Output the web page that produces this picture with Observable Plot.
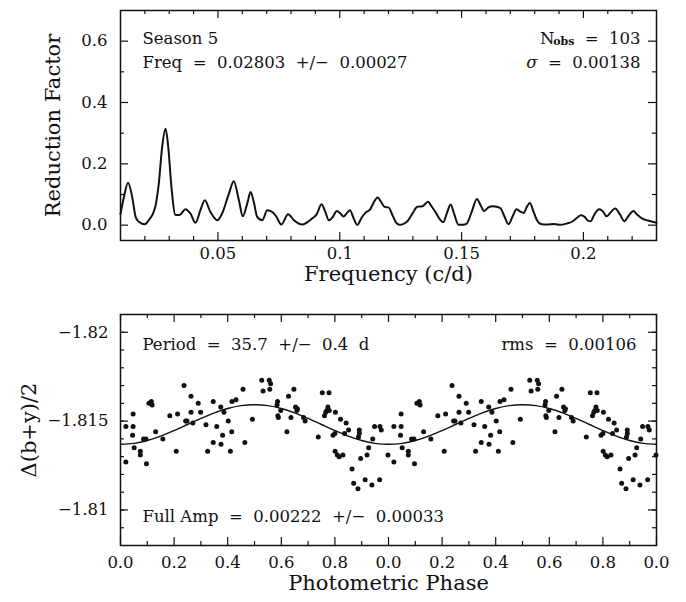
<!DOCTYPE html>
<html><head><meta charset="utf-8">
<script src="https://cdn.jsdelivr.net/npm/d3@7"></script>
<script src="https://cdn.jsdelivr.net/npm/@observablehq/plot@0.6"></script>
<style>
html,body{margin:0;padding:0;background:#fff;}
#chart svg{display:block;}
</style></head><body><div id="chart"></div>
<script>
// ---------- periodogram (top panel) ----------
const frequency = [0.0100,0.0114,0.0131,0.0148,0.0162,0.0175,0.0200,0.0216,0.0241,0.0257,0.0271,0.0285,0.0296,0.0309,0.0326,0.0342,0.0367,0.0387,0.0408,0.0428,0.0446,0.0469,0.0497,0.0517,0.0545,0.0565,0.0586,0.0602,0.0620,0.0634,0.0647,0.0661,0.0682,0.0702,0.0723,0.0739,0.0760,0.0788,0.0812,0.0846,0.0887,0.0905,0.0925,0.0940,0.0955,0.0970,0.0988,0.1003,0.1015,0.1030,0.1042,0.1058,0.1072,0.1090,0.1105,0.1125,0.1140,0.1155,0.1170,0.1185,0.1200,0.1215,0.1230,0.1245,0.1262,0.1280,0.1300,0.1318,0.1340,0.1362,0.1378,0.1395,0.1410,0.1425,0.1440,0.1455,0.1470,0.1488,0.1505,0.1520,0.1540,0.1563,0.1578,0.1592,0.1610,0.1628,0.1645,0.1660,0.1675,0.1693,0.1710,0.1725,0.1740,0.1755,0.1768,0.1780,0.1795,0.1810,0.1825,0.1850,0.1880,0.1905,0.1930,0.1955,0.1975,0.1990,0.2005,0.2020,0.2030,0.2045,0.2065,0.2080,0.2095,0.2110,0.2130,0.2150,0.2168,0.2185,0.2205,0.2220,0.2240,0.2265,0.2300];
const reductionFactor = [0.036,0.092,0.138,0.092,0.027,0.011,0.003,0.016,0.054,0.135,0.255,0.314,0.255,0.125,0.033,0.033,0.052,0.038,0.008,0.049,0.081,0.043,0.016,0.038,0.103,0.143,0.081,0.029,0.070,0.108,0.076,0.027,0.016,0.049,0.043,0.029,0.002,0.036,0.016,0.002,0.022,0.035,0.068,0.045,0.016,0.025,0.046,0.038,0.028,0.040,0.049,0.020,0.001,0.025,0.040,0.052,0.075,0.090,0.075,0.059,0.058,0.035,0.010,0.001,0.004,0.015,0.040,0.060,0.062,0.076,0.060,0.040,0.020,0.010,0.040,0.067,0.035,0.001,0.001,0.004,0.040,0.085,0.065,0.046,0.058,0.062,0.060,0.055,0.030,0.003,0.030,0.052,0.045,0.040,0.060,0.072,0.045,0.015,0.004,0.002,0.004,0.001,0.005,0.012,0.025,0.032,0.027,0.014,0.013,0.035,0.052,0.045,0.029,0.040,0.054,0.035,0.013,0.030,0.046,0.035,0.022,0.015,0.008];

const freqMajorTicks = [0.05,0.1,0.15,0.2];
const freqTickLabels = ["0.05","0.1","0.15","0.2"];
const freqMinorTicks = [0.02,0.03,0.04,0.06,0.07,0.08,0.09,0.11,0.12,0.13,0.14,0.16,0.17,0.18,0.19,0.21,0.22];
const rfMajorTicks = [0,0.2,0.4,0.6];
const rfTickLabels = ["0.0","0.2","0.4","0.6"];
const rfMinorTicks = [0.1,0.3,0.5];

// ---------- phased light curve (bottom panel) ----------
const phase = [0.020,0.047,0.047,0.045,0.051,0.020,0.074,0.074,0.086,0.095,0.097,0.106,0.115,0.118,0.131,0.158,0.184,0.208,0.213,0.237,0.243,0.248,0.263,0.263,0.270,0.290,0.299,0.319,0.325,0.346,0.346,0.359,0.374,0.375,0.381,0.386,0.402,0.410,0.415,0.416,0.431,0.457,0.464,0.492,
0.527,0.532,0.555,0.560,0.557,0.586,0.584,0.587,0.589,0.598,0.621,0.627,0.636,0.647,0.653,0.660,0.658,0.683,0.689,0.738,0.753,0.778,0.774,0.770,0.766,0.761,0.779,0.802,0.793,0.800,0.821,0.842,0.836,0.851,0.801,0.809,0.816,0.830,0.864,0.870,0.886,0.891,0.891,0.888,0.896,0.913,0.920,0.926,0.938,0.941,0.948,0.968,0.973,0.967,0.998];
const deltaMag = [-1.8147,-1.8154,-1.8147,-1.8142,-1.8135,-1.8127,-1.8133,-1.8131,-1.8140,-1.8140,-1.8126,-1.8160,-1.8161,-1.8159,-1.8144,-1.8140,-1.8153,-1.8133,-1.8154,-1.8170,-1.8150,-1.8150,-1.8164,-1.8155,-1.8149,-1.8160,-1.8155,-1.8148,-1.8133,-1.8161,-1.8138,-1.8147,-1.8158,-1.8137,-1.8142,-1.8155,-1.8150,-1.8133,-1.8144,-1.8161,-1.8162,-1.8168,-1.8138,-1.8151,
-1.8173,-1.8167,-1.8173,-1.8171,-1.8168,-1.8161,-1.8159,-1.8153,-1.8152,-1.8156,-1.8144,-1.8164,-1.8152,-1.8168,-1.8158,-1.8157,-1.8156,-1.8152,-1.8150,-1.8141,-1.8166,-1.8166,-1.8158,-1.8156,-1.8155,-1.8153,-1.8156,-1.8155,-1.8142,-1.8143,-1.8151,-1.8149,-1.8143,-1.8145,-1.8133,-1.8131,-1.8130,-1.8131,-1.8123,-1.8115,-1.8112,-1.8145,-1.8143,-1.8141,-1.8129,-1.8117,-1.8131,-1.8135,-1.8114,-1.8140,-1.8147,-1.8147,-1.8145,-1.8117,-1.8131];

const fitPhase = [0,0.05,0.1,0.15,0.2,0.25,0.3,0.35,0.4,0.45,0.5,0.55,0.6,0.65,0.7,0.75,0.8,0.85,0.9,0.95,1.0];
const fitMag = [-1.81370,-1.81375,-1.81391,-1.81416,-1.81447,-1.81481,-1.81515,-1.81546,-1.81571,-1.81587,-1.81592,-1.81587,-1.81571,-1.81546,-1.81515,-1.81481,-1.81447,-1.81416,-1.81391,-1.81375,-1.81370];

const phaseMajorTicks = [0,0.2,0.4,0.6,0.8,1.0,1.2,1.4,1.6,1.8,2.0];
const phaseTickLabels = ["0.0","0.2","0.4","0.6","0.8","0.0","0.2","0.4","0.6","0.8","0.0"];
const phaseMinorTicks = [0.1,0.3,0.5,0.7,0.9,1.1,1.3,1.5,1.7,1.9];
const magMajorTicks = [-1.82,-1.815,-1.81];
const magTickLabels = ["\u22121.82","\u22121.815","\u22121.81"];
const magMinorTicks = [-1.82,-1.819,-1.818,-1.817,-1.816,-1.815,-1.814,-1.813,-1.812,-1.811,-1.81,-1.809];

// ---------- helpers ----------
const W = 686, H1 = 301, H2 = 301;
const ML = 120, MR = 30;
const font = "DejaVu Serif";
const TICKFS = 16.5, ANNFS = 16.5, TITLEFS = 21;

function frameTicks(xs, ys, iw, ih, len) {
  return [
    Plot.ruleX(xs, {x: d => d, insetTop: ih - len, strokeWidth: 1.2}),
    Plot.ruleX(xs, {x: d => d, insetBottom: ih - len, strokeWidth: 1.2}),
    Plot.ruleY(ys, {y: d => d, insetRight: iw - len, strokeWidth: 1.2}),
    Plot.ruleY(ys, {y: d => d, insetLeft: iw - len, strokeWidth: 1.2})
  ];
}

// top panel
const t = {mt: 10, mb: 61};
const iw = W - ML - MR;
const ih1 = H1 - t.mt - t.mb;
const pgram = frequency.map((f, i) => ({f, r: reductionFactor[i]}));

const topPlot = Plot.plot({
  width: W, height: H1,
  marginLeft: ML, marginRight: MR, marginTop: t.mt, marginBottom: t.mb,
  x: {domain: [0.01, 0.23], axis: null},
  y: {domain: [-0.05, 0.7], axis: null},
  style: {fontFamily: font, fontSize: "16px", background: "white", color: "#111", whiteSpace: "pre"},
  marks: [
    Plot.line(pgram, {x: "f", y: "r", curve: "monotone-x", strokeWidth: 2, stroke: "#111"}),
    ...frameTicks(freqMajorTicks, rfMajorTicks, iw, ih1, 8),
    ...frameTicks(freqMinorTicks, rfMinorTicks, iw, ih1, 4),
    Plot.frame({strokeWidth: 1.5}),
    Plot.text(freqMajorTicks, {x: d => d, text: (d, i) => freqTickLabels[i], frameAnchor: "bottom", dy: 18, fontSize: TICKFS}),
    Plot.text(rfMajorTicks, {y: d => d, text: (d, i) => rfTickLabels[i], frameAnchor: "left", dx: -13, textAnchor: "end", fontSize: TICKFS}),
    Plot.text(["Frequency (c/d)"], {text: d => d, frameAnchor: "bottom", dy: 40, textAnchor: "middle", fontSize: TITLEFS}),
    Plot.text(["Reduction Factor"], {text: d => d, frameAnchor: "left", dx: -67, rotate: -90, textAnchor: "middle", fontSize: TITLEFS}),
    Plot.text(["Season 5"], {text: d => d, frameAnchor: "top-left", dx: 22, dy: 22, textAnchor: "start", fontSize: ANNFS}),
    Plot.text(["Freq  =  0.02803  +/\u2212  0.00027"], {text: d => d, frameAnchor: "top-left", dx: 22, dy: 46, textAnchor: "start", fontSize: ANNFS}),
    Plot.text(["=  103"], {text: d => d, frameAnchor: "top-right", dx: -16, dy: 22, textAnchor: "end", fontSize: ANNFS}),
    Plot.text(["obs"], {text: d => d, frameAnchor: "top-right", dx: -82, dy: 27, textAnchor: "end", fontSize: 11, fontWeight: "bold"}),
    Plot.text(["N"], {text: d => d, frameAnchor: "top-right", dx: -102, dy: 22, textAnchor: "end", fontSize: ANNFS}),
    Plot.text(["=  0.00138"], {text: d => d, frameAnchor: "top-right", dx: -16, dy: 46, textAnchor: "end", fontSize: ANNFS}),
    Plot.text(["\u03c3"], {text: d => d, frameAnchor: "top-right", dx: -119, dy: 46, textAnchor: "end", fontSize: ANNFS, fontStyle: "italic"})
  ]
});

// bottom panel
const b = {mt: 13, mb: 57};
const ih2 = H2 - b.mt - b.mb;
const points = phase.flatMap((p, i) => [{p, m: deltaMag[i]}, {p: p + 1, m: deltaMag[i]}]);
const fit = [...fitPhase.map((p, i) => ({p, m: fitMag[i]})), ...fitPhase.slice(1).map((p, i) => ({p: p + 1, m: fitMag[i + 1]}))];

const botPlot = Plot.plot({
  width: W, height: H2,
  marginLeft: ML, marginRight: MR, marginTop: b.mt, marginBottom: b.mb,
  x: {domain: [0, 2], axis: null},
  y: {domain: [-1.821, -1.808], reverse: true, axis: null},
  style: {fontFamily: font, fontSize: "16px", background: "white", color: "#111", whiteSpace: "pre"},
  marks: [
    Plot.line(fit, {x: "p", y: "m", curve: "catmull-rom", strokeWidth: 1.4, stroke: "#111"}),
    Plot.dot(points, {x: "p", y: "m", r: 2.5, fill: "#111", stroke: null}),
    ...frameTicks(phaseMajorTicks, magMajorTicks, iw, ih2, 8),
    ...frameTicks(phaseMinorTicks, magMinorTicks, iw, ih2, 4),
    Plot.frame({strokeWidth: 1.5}),
    Plot.text(phaseMajorTicks, {x: d => d, text: (d, i) => phaseTickLabels[i], frameAnchor: "bottom", dy: 22, fontSize: TICKFS}),
    Plot.text(magMajorTicks, {y: d => d, text: (d, i) => magTickLabels[i], frameAnchor: "left", dx: -12, textAnchor: "end", fontSize: TICKFS}),
    Plot.text(["Photometric Phase"], {text: d => d, frameAnchor: "bottom", dy: 44, textAnchor: "middle", fontSize: TITLEFS}),
    Plot.text(["\u0394(b+y)/2"], {text: d => d, frameAnchor: "left", dx: -91, rotate: -90, textAnchor: "middle", fontSize: TITLEFS}),
    Plot.text(["Period  =  35.7  +/\u2212  0.4  d"], {text: d => d, frameAnchor: "top-left", dx: 22, dy: 24, textAnchor: "start", fontSize: ANNFS}),
    Plot.text(["rms  =  0.00106"], {text: d => d, frameAnchor: "top-right", dx: -20, dy: 24, textAnchor: "end", fontSize: ANNFS}),
    Plot.text(["Full Amp  =  0.00222  +/\u2212  0.00033"], {text: d => d, frameAnchor: "bottom-left", dx: 22, dy: -24, textAnchor: "start", fontSize: ANNFS})
  ]
});

const chart = document.getElementById("chart");
chart.appendChild(topPlot);
chart.appendChild(botPlot);
</script>
</body></html>
